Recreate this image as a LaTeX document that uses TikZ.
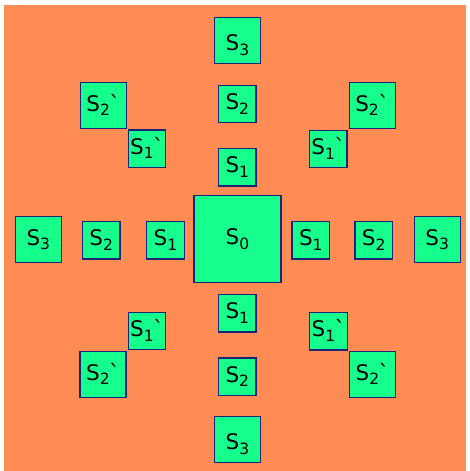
\documentclass[tikz,border=0pt]{standalone}
\usepackage{fontspec}
\newfontfamily\boxfont{DejaVu Sans}
\definecolor{bgorange}{RGB}{255,140,85}
\definecolor{boxfill}{RGB}{22,255,140}
\definecolor{boxline}{RGB}{30,35,120}
\newcommand\subx[1]{\raisebox{-4.5pt}{\fontsize{15.5}{15.5}\selectfont #1}}
\newcommand\grv{\kern-0.5pt\symbol{"02CB}}
\newcommand\lowx[1]{\raisebox{-5pt}{#1}}
\tikzset{
  box/.style={draw=boxline, fill=boxfill, line width=1.2pt, inner sep=0pt,
    minimum width=#1, minimum height=#1, text height=15.5pt, text depth=4.5pt,
    font=\boxfont\fontsize{21.5}{21.5}\selectfont, text=black},
  small/.style={box=37.5pt},
  mid/.style={box=46pt},
}
\begin{document}
\begin{tikzpicture}[x=1pt,y=-1pt]
\useasboundingbox (0,0) rectangle (469,471);
\fill[white] (0,0) rectangle (469,471);
\fill[bgorange] (4,5) rectangle (466,471);
% centre
\node[box=87pt] (s0) at (237.5,239) {S\subx{0}};
% vertical column
\node[mid]   (t3) at (237.5,40.3) {\lowx{S\subx{3}}};
\node[small] (t2) at (237.3,104)  {S\subx{2}};
\node[small] (t1) at (237.3,167.2) {S\subx{1}};
\node[small] (b1) at (237.3,313.3) {S\subx{1}};
\node[small] (b2) at (237.3,376.7) {S\subx{2}};
\node[mid]   (b3) at (237.5,439.3) {\lowx{S\subx{3}}};
% horizontal row
\node[mid]   (l3) at (38.3,239.7)  {S\subx{3}};
\node[small] (l2) at (101.2,240.3) {S\subx{2}};
\node[small] (l1) at (165.5,240.3) {S\subx{1}};
\node[small] (r1) at (310.8,240.3) {S\subx{1}};
\node[small] (r2) at (373.7,240.3) {S\subx{2}};
\node[mid]   (r3) at (437.2,239.8) {S\subx{3}};
% diagonals
\node[mid]   (tl2) at (103.3,105.7) {S\subx{2}\grv};
\node[small] (tl1) at (147,148.7)   {S\subx{1}\grv};
\node[mid]   (tr2) at (372.2,105.8) {S\subx{2}\grv};
\node[small] (tr1) at (328.3,149)   {S\subx{1}\grv};
\node[small] (bl1) at (147,331)     {S\subx{1}\grv};
\node[mid]   (bl2) at (103,374.5)   {S\subx{2}\grv};
\node[small] (br1) at (328.5,331.2) {S\subx{1}\grv};
\node[mid]   (br2) at (372.5,374.5) {S\subx{2}\grv};
\end{tikzpicture}
\end{document}
